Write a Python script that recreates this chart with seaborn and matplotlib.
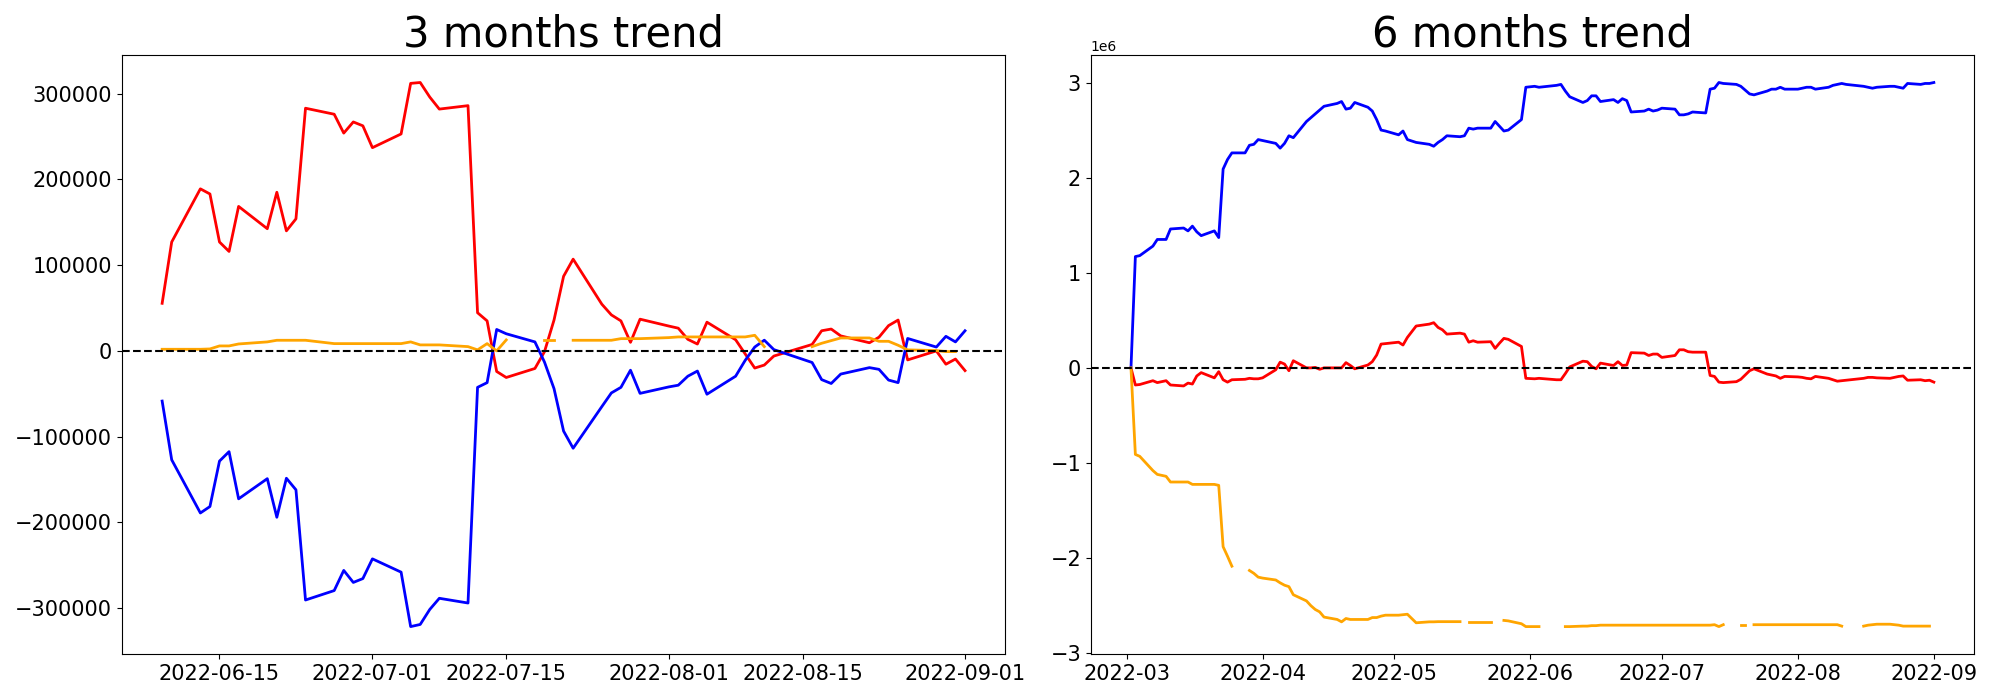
import matplotlib
matplotlib.use("Agg")
import matplotlib.pyplot as plt
import numpy as np
import pandas as pd
import seaborn as sns

nan = np.nan

# ---- 3 months (values in shares) ----
dates_3m = ['2022-06-09', '2022-06-10', '2022-06-13', '2022-06-14', '2022-06-15', '2022-06-16',
            '2022-06-17', '2022-06-20', '2022-06-21', '2022-06-22', '2022-06-23', '2022-06-24',
            '2022-06-27', '2022-06-28', '2022-06-29', '2022-06-30', '2022-07-01', '2022-07-04',
            '2022-07-05', '2022-07-06', '2022-07-07', '2022-07-08', '2022-07-11', '2022-07-12',
            '2022-07-13', '2022-07-14', '2022-07-15', '2022-07-18', '2022-07-19', '2022-07-20',
            '2022-07-21', '2022-07-22', '2022-07-25', '2022-07-26', '2022-07-27', '2022-07-28',
            '2022-07-29', '2022-08-01', '2022-08-02', '2022-08-03', '2022-08-04', '2022-08-05',
            '2022-08-08', '2022-08-09', '2022-08-10', '2022-08-11', '2022-08-12', '2022-08-16',
            '2022-08-17', '2022-08-18', '2022-08-19', '2022-08-22', '2022-08-23', '2022-08-24',
            '2022-08-25', '2022-08-26', '2022-08-29', '2022-08-30', '2022-08-31', '2022-09-01']
red_3m = [55500, 127000, 189000, 183000, 127000, 116000, 168500, 142500, 185000, 140000, 154000, 283000,
          276000, 254000, 267000, 262500, 237000, 253000, 312000, 313000, 296000, 282000, 286000, 44500,
          35000, -24000, -31000, -20500, -1000, 36000, 87000, 107000, 54500, 42000, 35000, 10000,
          37000, 29000, 26500, 13500, 8000, 33500, 13000, -3500, -20000, -16500, -6000, 7500,
          23500, 25500, 17500, 9500, 16000, 29500, 36000, -10500, 0, -15500, -9500, -23000]
blue_3m = [-58500, -127000, -189000, -181500, -128500, -117500, -172500, -149000, -194000, -148500, -162000, -290500,
           -279500, -256000, -270000, -265500, -242500, -258000, -321500, -319000, -301500, -288500, -294000, -42500,
           -37000, 25000, 20000, 10500, -13000, -44000, -93500, -113500, -65000, -49000, -42500, -22500,
           -49500, -42000, -40000, -29500, -23500, -50500, -29500, -11000, 4500, 12500, 1500, -13500,
           -33500, -38000, -27000, -19500, -21500, -34000, -37000, 14500, 4500, 17000, 10500, 23500]
orange_3m = [1900, 1900, 1900, 2300, 5800, 5800, 8100, 10500, 12400, 12400, 12400, 12400,
             8500, 8500, 8500, 8500, 8500, 8500, 10500, 7000, 7000, 7000, 5000, 1200,
             8500, 0, 12800, nan, 12400, 12400, nan, 12400, 12400, 12400, 14300, 14300,
             14300, 15500, 16300, 16300, 16300, 16300, 16300, 16300, 18200, 5000, nan, 5000,
             8900, 12000, 15100, 15100, 11200, 11200, 6600, 1200, 400, -800, -800, nan]

# ---- 6 months (values in millions of shares) ----
dates_6m = ['2022-03-02', '2022-03-03', '2022-03-04', '2022-03-07', '2022-03-08', '2022-03-10', '2022-03-11',
            '2022-03-14', '2022-03-15', '2022-03-16', '2022-03-17', '2022-03-18', '2022-03-21', '2022-03-22',
            '2022-03-23', '2022-03-24', '2022-03-25', '2022-03-28', '2022-03-29', '2022-03-30', '2022-03-31',
            '2022-04-01', '2022-04-04', '2022-04-05', '2022-04-06', '2022-04-07', '2022-04-08', '2022-04-11',
            '2022-04-12', '2022-04-13', '2022-04-14', '2022-04-15', '2022-04-18', '2022-04-19', '2022-04-20',
            '2022-04-21', '2022-04-22', '2022-04-25', '2022-04-26', '2022-04-27', '2022-04-28', '2022-04-29',
            '2022-05-02', '2022-05-03', '2022-05-04', '2022-05-06', '2022-05-09', '2022-05-10', '2022-05-11',
            '2022-05-12', '2022-05-13', '2022-05-16', '2022-05-17', '2022-05-18', '2022-05-19', '2022-05-20',
            '2022-05-23', '2022-05-24', '2022-05-25', '2022-05-26', '2022-05-27', '2022-05-30', '2022-05-31',
            '2022-06-02', '2022-06-03', '2022-06-07', '2022-06-08', '2022-06-09', '2022-06-10', '2022-06-13',
            '2022-06-14', '2022-06-15', '2022-06-16', '2022-06-17', '2022-06-20', '2022-06-21', '2022-06-22',
            '2022-06-23', '2022-06-24', '2022-06-27', '2022-06-28', '2022-06-29', '2022-06-30', '2022-07-01',
            '2022-07-04', '2022-07-05', '2022-07-06', '2022-07-07', '2022-07-08', '2022-07-11', '2022-07-12',
            '2022-07-13', '2022-07-14', '2022-07-15', '2022-07-18', '2022-07-19', '2022-07-20', '2022-07-21',
            '2022-07-22', '2022-07-25', '2022-07-26', '2022-07-27', '2022-07-28', '2022-07-29', '2022-08-01',
            '2022-08-02', '2022-08-03', '2022-08-04', '2022-08-05', '2022-08-08', '2022-08-09', '2022-08-10',
            '2022-08-11', '2022-08-12', '2022-08-16', '2022-08-17', '2022-08-18', '2022-08-19', '2022-08-22',
            '2022-08-23', '2022-08-24', '2022-08-25', '2022-08-26', '2022-08-29', '2022-08-30', '2022-08-31',
            '2022-09-01']
blue_6m = [0, 1.17, 1.18, 1.28, 1.35, 1.35, 1.46, 1.47, 1.44, 1.49, 1.43, 1.39, 1.44, 1.37,
           2.09, 2.19, 2.26, 2.26, 2.34, 2.35, 2.40,
           2.39, 2.36, 2.31, 2.36, 2.44, 2.42, 2.59, 2.63, 2.67, 2.71, 2.75, 2.78, 2.80, 2.72,
           2.73, 2.79, 2.74, 2.70, 2.61, 2.50, 2.49,
           2.45, 2.49, 2.40, 2.37, 2.35, 2.33, 2.37, 2.40, 2.44, 2.43, 2.44, 2.52, 2.51, 2.52,
           2.52, 2.59, 2.54, 2.49, 2.50, 2.61, 2.95,
           2.96, 2.95, 2.97, 2.98, 2.91, 2.85, 2.79, 2.81, 2.86, 2.86, 2.80, 2.82, 2.79, 2.83,
           2.81, 2.69, 2.70, 2.72, 2.70, 2.71, 2.73,
           2.72, 2.66, 2.66, 2.67, 2.69, 2.68, 2.93, 2.94, 3.00, 2.99, 2.98, 2.96, 2.92, 2.88,
           2.87, 2.91, 2.93, 2.93, 2.95, 2.93, 2.93,
           2.94, 2.95, 2.95, 2.93, 2.95, 2.97, 2.98, 2.99, 2.98, 2.96, 2.95, 2.94, 2.95, 2.96,
           2.96, 2.95, 2.94, 2.99, 2.98, 2.99, 2.99,
           3.00]
red_6m = [0, -0.18, -0.175, -0.135, -0.155, -0.135, -0.18, -0.19, -0.16, -0.17, -0.085, -0.05, -0.105, -0.04,
          -0.125, -0.15, -0.125, -0.12, -0.11, -0.115, -0.115,
          -0.105, -0.02, 0.06, 0.04, -0.03, 0.075, 0.0, 0.0, 0.005, -0.015, 0.0, 0.0, 0.0, 0.055,
          0.025, -0.01, 0.03, 0.065, 0.135, 0.25, 0.255,
          0.27, 0.24, 0.32, 0.44, 0.46, 0.475, 0.425, 0.40, 0.355, 0.365, 0.355, 0.27, 0.285, 0.27,
          0.275, 0.205, 0.26, 0.31, 0.30, 0.225, -0.11,
          -0.115, -0.11, -0.125, -0.125, -0.06, 0.01, 0.07, 0.065, 0.015, -0.01, 0.05, 0.025, 0.065, 0.025,
          0.03, 0.16, 0.155, 0.13, 0.145, 0.145, 0.11,
          0.13, 0.19, 0.19, 0.17, 0.165, 0.165, -0.08, -0.09, -0.15, -0.155, -0.145, -0.12, -0.075, -0.03,
          -0.01, -0.065, -0.075, -0.085, -0.11, -0.09, -0.095,
          -0.10, -0.11, -0.115, -0.09, -0.11, -0.125, -0.14, -0.135, -0.13, -0.11, -0.10, -0.10, -0.105, -0.11,
          -0.10, -0.09, -0.085, -0.13, -0.125, -0.135, -0.13,
          -0.15]
orange_6m = [0, -0.91, -0.93, -1.08, -1.12, -1.14, -1.20, -1.20, -1.20, -1.225, -1.225, -1.225, -1.225, -1.235,
             -1.88, -1.98, -2.085, nan, -2.13, -2.16, -2.20,
             -2.21, -2.23, -2.26, -2.285, -2.30, -2.385, -2.45, -2.50, -2.54, -2.565, -2.62, -2.645, -2.67, -2.635,
             -2.645, -2.645, -2.645, -2.625, -2.625, -2.61, -2.60,
             -2.60, -2.595, -2.59, -2.68, -2.67, -2.67, -2.668, -2.668, -2.668, -2.668, nan, -2.67, -2.67, -2.67,
             -2.67, nan, nan, -2.655, -2.66, -2.69, -2.72,
             -2.72, -2.72, nan, nan, -2.72, -2.72, -2.715, -2.715, -2.71, -2.71, -2.705, -2.705, -2.705, -2.705,
             -2.705, -2.705, -2.705, -2.705, -2.705, -2.705, -2.705,
             -2.705, -2.705, -2.705, -2.705, -2.705, -2.705, -2.705, -2.70, -2.72, -2.70, nan, -2.705, -2.705, nan,
             -2.70, -2.70, -2.70, -2.70, -2.70, -2.70, -2.70,
             -2.70, -2.70, -2.70, -2.70, -2.70, -2.70, -2.70, -2.715, nan, -2.715, -2.705, -2.70, -2.695, -2.695,
             -2.70, -2.705, -2.715, -2.715, -2.715, -2.715, -2.715,
             nan]

df3 = pd.DataFrame({'date': pd.to_datetime(dates_3m), 'red': red_3m, 'blue': blue_3m, 'orange': orange_3m})
df6 = pd.DataFrame({'date': pd.to_datetime(dates_6m), 'red': red_6m, 'blue': blue_6m, 'orange': orange_6m})
df6[['red', 'blue', 'orange']] *= 1e6

fig, axes = plt.subplots(1, 2, figsize=(20, 7), dpi=100)
for ax, df, title in zip(axes, [df3, df6], ['3 months trend', '6 months trend']):
    for col in ['red', 'blue', 'orange']:
        # missing days break the line: give each unbroken run its own unit
        part = df[['date', col]].assign(seg=df[col].isna().cumsum())
        sns.lineplot(data=part, x='date', y=col, units='seg', estimator=None,
                     color=col, linewidth=2, ax=ax)
    ax.axhline(0, color='black', linestyle='--', linewidth=1.5)
    ax.set_title(title, fontsize=30)
    ax.set(xlabel='', ylabel='')
    ax.tick_params(labelsize=15)

fig.subplots_adjust(left=0.061, right=0.987, top=0.921, bottom=0.066, wspace=0.097)
fig.savefig('out.png')
